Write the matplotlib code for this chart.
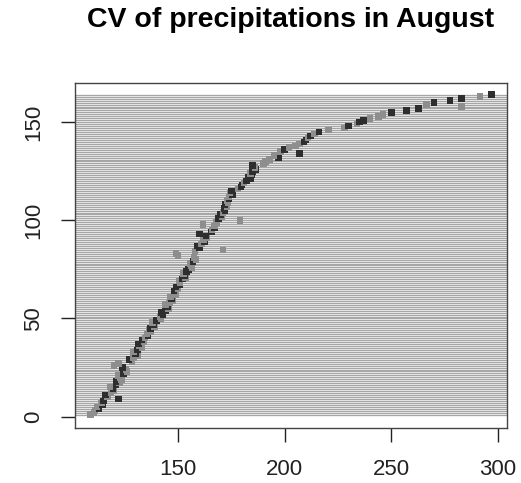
import numpy as np
import matplotlib.pyplot as plt

plt.rcParams['font.family'] = ['Liberation Sans', 'DejaVu Sans']

# sorted CV values (x) for each row
cv = [109, 110.5, 111, 113, 112, 114.5, 114, 115, 122, 117,
      116, 118.5, 120, 119.5, 118, 121, 122.5, 121, 123.5, 123,
      122, 124.5, 126, 125.5, 124, 120, 122, 128.5, 127, 129,
      131, 130, 129, 131, 133, 132, 131.5, 134, 133, 134.5,
      136, 135.5, 137, 136.5, 137, 139, 138.5, 138, 140, 142,
      141.5, 143, 142, 144, 145.5, 145, 144, 146, 147.5, 147,
      146.5, 149, 148.5, 148, 150, 149, 151, 151, 150.5, 152,
      153.5, 153, 152.5, 154, 155, 156.5, 156, 155.5, 157, 158.5,
      157.5, 150, 149, 158, 171, 160, 159, 161, 162.5, 162,
      163.5, 163, 160, 165.8, 166, 167, 167, 161.7, 168, 179,
      169, 170.5, 170, 171, 172, 171.5, 173, 172, 173.5, 173,
      174, 174, 175.5, 174.4, 175, 178, 179.5, 180, 181, 182,
      184, 183, 184.5, 184, 185, 186.5, 186, 185, 190, 191,
      193, 197, 195, 207, 198, 200, 202, 205, 207, 209,
      210, 211, 212, 214, 216, 220.5, 228, 230, 234, 235,
      237, 240, 244, 246, 250, 257, 262.7, 283, 266.6, 270,
      277.5, 283, 291.6, 297]
rows = np.arange(1, len(cv) + 1)

# point shade per row: d = dark, g = grey
shade = ("gggdgdgddg" "dggdgdgdgg" "gdggdgggdg" "gdgdggdgdg"
         "dgggdgdgdg" "gdddgdgggd" "gggdgddggd" "gdgddgggdg"
         "gggggddgdg" "gdddgdgggg" "dgdgddgdgg" "dgdgdgddgd"
         "dddgddgdgg" "gdgdgdgggd" "dgdgdggdgd" "dgggdddggd"
         "ddgd")
colors = ['#2e2e2e' if s == 'd' else '#8e8e8e' for s in shade]

fig = plt.figure(figsize=(5.21, 4.83), dpi=100)
ax = fig.add_axes([0.144, 0.1139, 0.829, 0.7143])

for r in rows:
    ax.axhline(r, color='#a6a6a6', lw=0.95, zorder=1)

ax.scatter(cv, rows, marker='s', s=22, c=colors, linewidths=0, zorder=3)

ax.set_xlim(101.7, 304.2)
ax.set_ylim(-5.8, 170)
ax.set_xticks([150, 200, 250, 300])
ax.set_yticks([0, 50, 100, 150])
ax.tick_params(axis='both', length=10, width=1, labelsize=16, pad=12, colors='#222222')
for lab in ax.get_yticklabels():
    lab.set_rotation(90)
    lab.set_va('center')
for sp in ax.spines.values():
    sp.set_color('#444444')
    sp.set_linewidth(1)

fig.suptitle('CV of precipitations in August', fontsize=20.5, fontweight='bold', x=0.558, y=0.985)

fig.savefig('out.png', dpi=100)
